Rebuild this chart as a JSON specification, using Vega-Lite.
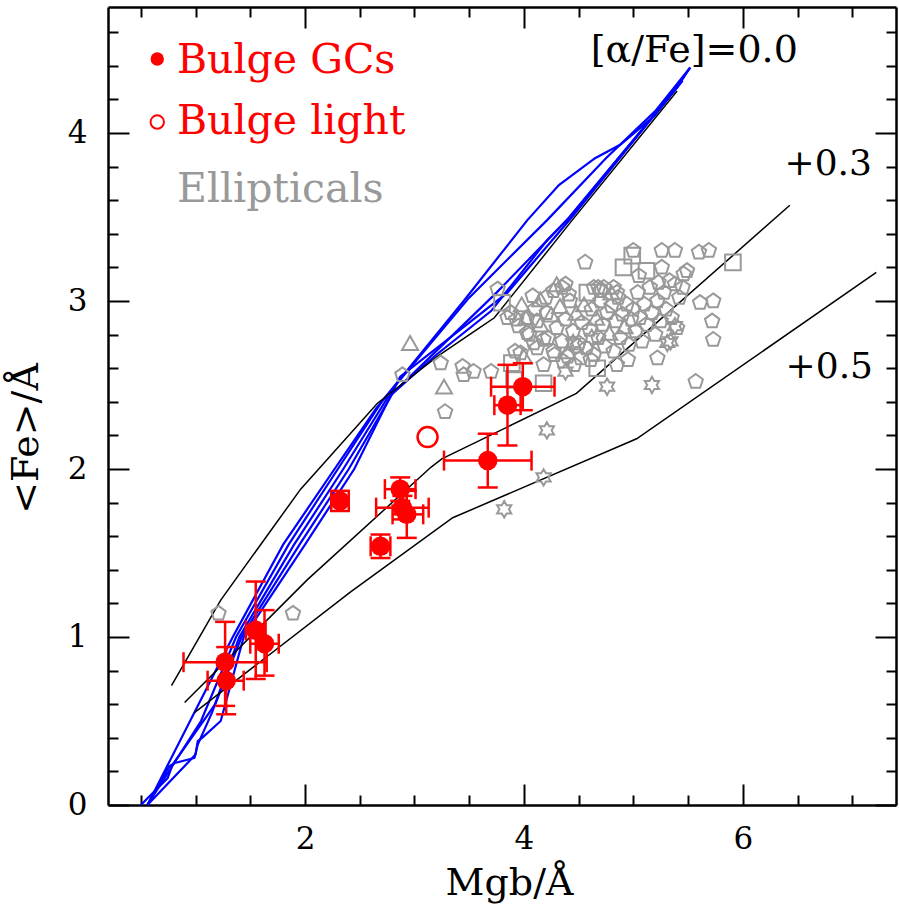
{
  "$schema": "https://vega.github.io/schema/vega-lite/v6.json",
  "width": 788,
  "height": 798,
  "autosize": "none",
  "padding": {"left": 108, "top": 7, "right": 3, "bottom": 100},
  "background": "white",
  "config": {"view": {"stroke": null}},
  "datasets": {
    "blue": [
      {"line": "L1", "i": 0, "x": 0.56, "y": 0}, {"line": "L1", "i": 1, "x": 0.95, "y": 0.5}, {"line": "L1", "i": 2, "x": 1.34, "y": 1.0}, {"line": "L1", "i": 3, "x": 1.8, "y": 1.55}, {"line": "L1", "i": 4, "x": 2.27, "y": 2.0}, {"line": "L1", "i": 5, "x": 2.65, "y": 2.36}, {"line": "L1", "i": 6, "x": 3.45, "y": 3.0}, {"line": "L1", "i": 7, "x": 4.03, "y": 3.48}, {"line": "L1", "i": 8, "x": 4.32, "y": 3.69}, {"line": "L1", "i": 9, "x": 4.65, "y": 3.85}, {"line": "L1", "i": 10, "x": 4.88, "y": 3.93}, {"line": "L1", "i": 11, "x": 5.19, "y": 4.1}, {"line": "L1", "i": 12, "x": 5.41, "y": 4.28}, {"line": "L1", "i": 13, "x": 5.52, "y": 4.39},
      {"line": "L2", "i": 0, "x": 0.56, "y": 0}, {"line": "L2", "i": 1, "x": 1.05, "y": 0.5}, {"line": "L2", "i": 2, "x": 1.37, "y": 1.0}, {"line": "L2", "i": 3, "x": 1.85, "y": 1.55}, {"line": "L2", "i": 4, "x": 2.3, "y": 2.0}, {"line": "L2", "i": 5, "x": 2.7, "y": 2.4}, {"line": "L2", "i": 6, "x": 3.5, "y": 3.02}, {"line": "L2", "i": 7, "x": 4.21, "y": 3.48}, {"line": "L2", "i": 8, "x": 4.75, "y": 3.85}, {"line": "L2", "i": 9, "x": 5.2, "y": 4.13}, {"line": "L2", "i": 10, "x": 5.52, "y": 4.39},
      {"line": "L3", "i": 0, "x": 0.56, "y": 0}, {"line": "L3", "i": 1, "x": 0.76, "y": 0.23}, {"line": "L3", "i": 2, "x": 0.81, "y": 0.25}, {"line": "L3", "i": 3, "x": 0.99, "y": 0.28}, {"line": "L3", "i": 4, "x": 1.02, "y": 0.36}, {"line": "L3", "i": 5, "x": 1.15, "y": 0.55}, {"line": "L3", "i": 6, "x": 1.4, "y": 1.0}, {"line": "L3", "i": 7, "x": 1.9, "y": 1.55}, {"line": "L3", "i": 8, "x": 2.35, "y": 2.0}, {"line": "L3", "i": 9, "x": 2.75, "y": 2.42}, {"line": "L3", "i": 10, "x": 3.2, "y": 2.68}, {"line": "L3", "i": 11, "x": 3.7, "y": 2.94}, {"line": "L3", "i": 12, "x": 4.21, "y": 3.36}, {"line": "L3", "i": 13, "x": 4.39, "y": 3.48}, {"line": "L3", "i": 14, "x": 5.41, "y": 4.28},
      {"line": "L4", "i": 0, "x": 0.5, "y": 0}, {"line": "L4", "i": 1, "x": 0.745, "y": 0.16}, {"line": "L4", "i": 2, "x": 0.79, "y": 0.24}, {"line": "L4", "i": 3, "x": 1.18, "y": 0.6}, {"line": "L4", "i": 4, "x": 1.42, "y": 1.0}, {"line": "L4", "i": 5, "x": 1.95, "y": 1.55}, {"line": "L4", "i": 6, "x": 2.4, "y": 2.0}, {"line": "L4", "i": 7, "x": 2.8, "y": 2.45}, {"line": "L4", "i": 8, "x": 3.75, "y": 3.05}, {"line": "L4", "i": 9, "x": 4.42, "y": 3.5}, {"line": "L4", "i": 10, "x": 5.45, "y": 4.31},
      {"line": "L5", "i": 0, "x": 0.56, "y": 0}, {"line": "L5", "i": 1, "x": 1.0, "y": 0.3}, {"line": "L5", "i": 2, "x": 1.02, "y": 0.38}, {"line": "L5", "i": 3, "x": 1.06, "y": 0.4}, {"line": "L5", "i": 4, "x": 1.23, "y": 0.5}, {"line": "L5", "i": 5, "x": 1.44, "y": 1.0}, {"line": "L5", "i": 6, "x": 2.0, "y": 1.55}, {"line": "L5", "i": 7, "x": 2.45, "y": 2.0}, {"line": "L5", "i": 8, "x": 2.87, "y": 2.55}, {"line": "L5", "i": 9, "x": 3.85, "y": 3.05}, {"line": "L5", "i": 10, "x": 4.44, "y": 3.5}, {"line": "L5", "i": 11, "x": 5.42, "y": 4.29}
    ],
    "black": [
      {"line": "a0", "i": 0, "x": 0.78, "y": 0.71}, {"line": "a0", "i": 1, "x": 1.23, "y": 1.22}, {"line": "a0", "i": 2, "x": 1.96, "y": 1.88}, {"line": "a0", "i": 3, "x": 2.66, "y": 2.39}, {"line": "a0", "i": 4, "x": 3.21, "y": 2.67}, {"line": "a0", "i": 5, "x": 3.57, "y": 2.83}, {"line": "a0", "i": 6, "x": 3.73, "y": 2.9}, {"line": "a0", "i": 7, "x": 4.44, "y": 3.48}, {"line": "a0", "i": 8, "x": 5.4, "y": 4.25},
      {"line": "a3", "i": 0, "x": 0.9, "y": 0.61}, {"line": "a3", "i": 1, "x": 2.02, "y": 1.34}, {"line": "a3", "i": 2, "x": 3.15, "y": 2.01}, {"line": "a3", "i": 3, "x": 3.25, "y": 2.06}, {"line": "a3", "i": 4, "x": 4.48, "y": 2.45}, {"line": "a3", "i": 5, "x": 6.43, "y": 3.57},
      {"line": "a5", "i": 0, "x": 0.99, "y": 0.55}, {"line": "a5", "i": 1, "x": 2.42, "y": 1.27}, {"line": "a5", "i": 2, "x": 3.35, "y": 1.71}, {"line": "a5", "i": 3, "x": 5.03, "y": 2.18}, {"line": "a5", "i": 4, "x": 7.22, "y": 3.17}
    ],
    "ell": [
      {"x": 1.21, "y": 1.14, "s": "p"}, {"x": 1.89, "y": 1.14, "s": "p"}, {"x": 3.28, "y": 2.34, "s": "p"}, {"x": 3.27, "y": 2.49, "s": "t"}, {"x": 2.96, "y": 2.75, "s": "t"}, {"x": 2.89, "y": 2.56, "s": "p"}, {"x": 3.24, "y": 2.63, "s": "p"}, {"x": 3.44, "y": 2.61, "s": "p"}, {"x": 3.45, "y": 2.56, "s": "p"}, {"x": 3.54, "y": 2.58, "s": "p"}, {"x": 3.7, "y": 2.58, "s": "p"}, {"x": 3.76, "y": 3.07, "s": "p"}, {"x": 3.8, "y": 2.99, "s": "s"}, {"x": 3.85, "y": 2.9, "s": "p"}, {"x": 3.93, "y": 2.89, "s": "p"}, {"x": 3.97, "y": 2.69, "s": "p"}, {"x": 3.89, "y": 2.63, "s": "s"}, {"x": 3.91, "y": 2.53, "s": "s"}, {"x": 4.18, "y": 2.51, "s": "s"},
      {"x": 4.21, "y": 2.23, "s": "h"}, {"x": 4.18, "y": 1.95, "s": "h"}, {"x": 3.82, "y": 1.76, "s": "h"}, {"x": 4.38, "y": 2.58, "s": "h"}, {"x": 4.76, "y": 2.49, "s": "h"}, {"x": 5.17, "y": 2.5, "s": "h"}, {"x": 5.31, "y": 2.75, "s": "h"}, {"x": 5.38, "y": 2.85, "s": "h"},
      {"x": 5.57, "y": 2.52, "s": "p"}, {"x": 4.56, "y": 3.23, "s": "p"}, {"x": 4.91, "y": 3.2, "s": "s"}, {"x": 4.99, "y": 3.27, "s": "s"}, {"x": 5.91, "y": 3.23, "s": "s"}, {"x": 5.0, "y": 3.3, "s": "p"}, {"x": 5.26, "y": 3.3, "s": "p"}, {"x": 5.38, "y": 3.3, "s": "p"}, {"x": 5.6, "y": 3.29, "s": "p"}, {"x": 5.69, "y": 3.3, "s": "p"}, {"x": 4.68, "y": 3.08, "s": "p"}, {"x": 4.8, "y": 3.05, "s": "t"}, {"x": 4.35, "y": 3.08, "s": "p"}, {"x": 4.41, "y": 3.04, "s": "p"}, {"x": 5.23, "y": 3.11, "s": "p"}, {"x": 5.38, "y": 3.1, "s": "p"}, {"x": 5.49, "y": 3.18, "s": "p"}, {"x": 5.46, "y": 3.16, "s": "p"}, {"x": 5.61, "y": 2.99, "s": "p"}, {"x": 5.73, "y": 3.0, "s": "p"}, {"x": 5.72, "y": 2.88, "s": "p"}, {"x": 5.73, "y": 2.77, "s": "p"}, {"x": 5.4, "y": 2.84, "s": "p"}, {"x": 5.34, "y": 2.76, "s": "h"}, {"x": 5.22, "y": 2.66, "s": "p"},
      {"x": 3.88, "y": 2.93, "s": "p"}, {"x": 3.95, "y": 2.85, "s": "p"}, {"x": 4.02, "y": 2.9, "s": "t"}, {"x": 4.05, "y": 2.8, "s": "p"}, {"x": 4.1, "y": 2.95, "s": "p"}, {"x": 4.12, "y": 2.72, "s": "p"}, {"x": 4.15, "y": 2.86, "s": "t"}, {"x": 4.2, "y": 3.02, "s": "p"}, {"x": 4.22, "y": 2.78, "s": "p"}, {"x": 4.25, "y": 2.92, "s": "t"}, {"x": 4.28, "y": 2.68, "s": "p"}, {"x": 4.3, "y": 2.84, "s": "p"}, {"x": 4.33, "y": 2.97, "s": "t"}, {"x": 4.35, "y": 2.76, "s": "p"}, {"x": 4.38, "y": 2.89, "s": "p"}, {"x": 4.4, "y": 2.7, "s": "t"}, {"x": 4.42, "y": 3.0, "s": "p"}, {"x": 4.45, "y": 2.82, "s": "p"}, {"x": 4.48, "y": 2.93, "s": "t"}, {"x": 4.5, "y": 2.75, "s": "p"}, {"x": 3.98, "y": 2.98, "s": "t"}, {"x": 4.08, "y": 3.03, "s": "p"}, {"x": 3.92, "y": 2.7, "s": "p"}, {"x": 4.0, "y": 2.67, "s": "t"}, {"x": 4.18, "y": 2.62, "s": "p"}, {"x": 4.27, "y": 3.06, "s": "p"}, {"x": 4.36, "y": 2.64, "s": "p"}, {"x": 4.46, "y": 2.62, "s": "p"},
      {"x": 4.53, "y": 2.87, "s": "p"}, {"x": 4.55, "y": 2.98, "s": "t"}, {"x": 4.57, "y": 2.72, "s": "p"}, {"x": 4.6, "y": 2.83, "s": "p"}, {"x": 4.62, "y": 2.95, "s": "p"}, {"x": 4.64, "y": 2.68, "s": "p"}, {"x": 4.66, "y": 2.9, "s": "t"}, {"x": 4.68, "y": 2.78, "s": "p"}, {"x": 4.7, "y": 3.0, "s": "p"}, {"x": 4.72, "y": 2.86, "s": "p"}, {"x": 4.74, "y": 2.73, "s": "p"}, {"x": 4.76, "y": 2.93, "s": "p"}, {"x": 4.78, "y": 2.81, "s": "t"}, {"x": 4.8, "y": 2.97, "s": "p"}, {"x": 4.82, "y": 2.7, "s": "p"}, {"x": 4.84, "y": 2.88, "s": "p"}, {"x": 4.86, "y": 3.02, "s": "p"}, {"x": 4.88, "y": 2.78, "s": "p"}, {"x": 4.9, "y": 2.92, "s": "p"}, {"x": 4.92, "y": 2.85, "s": "t"}, {"x": 4.94, "y": 2.98, "s": "p"}, {"x": 4.96, "y": 2.74, "s": "p"}, {"x": 4.98, "y": 2.89, "s": "p"}, {"x": 4.58, "y": 3.05, "s": "s"}, {"x": 4.73, "y": 3.08, "s": "p"}, {"x": 4.85, "y": 2.62, "s": "p"}, {"x": 4.67, "y": 2.6, "s": "s"}, {"x": 4.52, "y": 2.66, "s": "p"}, {"x": 4.95, "y": 2.65, "s": "p"},
      {"x": 5.0, "y": 2.95, "s": "p"}, {"x": 5.02, "y": 2.82, "s": "p"}, {"x": 5.04, "y": 3.05, "s": "p"}, {"x": 5.06, "y": 2.9, "s": "p"}, {"x": 5.08, "y": 2.76, "s": "p"}, {"x": 5.1, "y": 2.98, "s": "p"}, {"x": 5.12, "y": 2.86, "s": "p"}, {"x": 5.15, "y": 3.08, "s": "p"}, {"x": 5.17, "y": 2.93, "s": "p"}, {"x": 5.2, "y": 2.8, "s": "p"}, {"x": 5.22, "y": 3.0, "s": "p"}, {"x": 5.25, "y": 2.88, "s": "p"}, {"x": 5.28, "y": 3.05, "s": "p"}, {"x": 5.3, "y": 2.95, "s": "p"}, {"x": 5.33, "y": 3.12, "s": "p"}, {"x": 5.35, "y": 2.9, "s": "p"}, {"x": 5.42, "y": 3.02, "s": "p"}, {"x": 5.45, "y": 3.08, "s": "p"}, {"x": 5.05, "y": 3.15, "s": "p"}, {"x": 5.12, "y": 3.18, "s": "s"}, {"x": 5.26, "y": 3.2, "s": "p"},
      {"x": 4.38, "y": 3.1, "s": "p"}, {"x": 4.64, "y": 3.08, "s": "p"}, {"x": 4.7, "y": 3.06, "s": "p"}, {"x": 4.82, "y": 3.08, "s": "p"}, {"x": 4.85, "y": 3.05, "s": "p"}, {"x": 4.3, "y": 3.1, "s": "t"}, {"x": 4.15, "y": 3.01, "s": "t"}, {"x": 4.12, "y": 2.88, "s": "p"}, {"x": 4.21, "y": 2.93, "s": "p"}, {"x": 4.03, "y": 2.9, "s": "p"}, {"x": 4.03, "y": 2.81, "s": "p"}, {"x": 4.09, "y": 2.75, "s": "p"}, {"x": 4.18, "y": 2.77, "s": "p"}, {"x": 4.27, "y": 2.7, "s": "p"}, {"x": 4.4, "y": 2.67, "s": "p"}, {"x": 4.49, "y": 2.73, "s": "p"}, {"x": 4.61, "y": 2.65, "s": "p"}, {"x": 4.45, "y": 2.75, "s": "h"}, {"x": 4.62, "y": 2.78, "s": "h"}
    ],
    "gc": [
      {"x": 2.32, "y": 1.81, "xlo": 2.24, "xhi": 2.4, "ylo": 1.75, "yhi": 1.87},
      {"x": 2.87, "y": 1.88, "xlo": 2.73, "xhi": 3.01, "ylo": 1.81, "yhi": 1.95},
      {"x": 2.89, "y": 1.77, "xlo": 2.65, "xhi": 3.13, "ylo": 1.7, "yhi": 1.84},
      {"x": 2.93, "y": 1.73, "xlo": 2.8, "xhi": 3.08, "ylo": 1.59, "yhi": 1.87},
      {"x": 2.69, "y": 1.54, "xlo": 2.6, "xhi": 2.78, "ylo": 1.47, "yhi": 1.61},
      {"x": 3.67, "y": 2.05, "xlo": 3.27, "xhi": 4.07, "ylo": 1.89, "yhi": 2.21},
      {"x": 3.85, "y": 2.38, "xlo": 3.73, "xhi": 3.97, "ylo": 2.14, "yhi": 2.62},
      {"x": 3.99, "y": 2.49, "xlo": 3.7, "xhi": 4.28, "ylo": 2.35, "yhi": 2.63},
      {"x": 1.55, "y": 1.04, "xlo": 1.46, "xhi": 1.64, "ylo": 0.75, "yhi": 1.33},
      {"x": 1.63, "y": 0.96, "xlo": 1.5, "xhi": 1.76, "ylo": 0.77, "yhi": 1.16},
      {"x": 1.27, "y": 0.85, "xlo": 0.89, "xhi": 1.65, "ylo": 0.59, "yhi": 1.09},
      {"x": 1.28, "y": 0.74, "xlo": 1.11, "xhi": 1.44, "ylo": 0.54, "yhi": 0.94}
    ]
  },
  "resolve": {"axis": {"x": "independent", "y": "independent"}},
  "layer": [
    {
      "data": {"name": "blue"},
      "mark": {"type": "line", "color": "#0000ff", "strokeWidth": 2.2},
      "encoding": {
        "x": {"field": "x", "type": "quantitative", "scale": {"domain": [0.2, 7.4], "nice": false, "zero": false},
          "axis": {"orient": "top", "title": null, "labels": false, "values": [0.5, 1, 1.5, 2, 2.5, 3, 3.5, 4, 4.5, 5, 5.5, 6, 6.5, 7],
            "tickSize": {"condition": {"test": "datum.value % 2 === 0", "value": -21}, "value": -10},
            "tickColor": "black", "tickWidth": 2, "domainColor": "black", "domainWidth": 2.5, "grid": false}},
        "y": {"field": "y", "type": "quantitative", "scale": {"domain": [0, 4.75], "nice": false, "zero": false},
          "axis": {"orient": "right", "title": null, "labels": false, "values": [0, 0.2, 0.4, 0.6, 0.8, 1, 1.2, 1.4, 1.6, 1.8, 2, 2.2, 2.4, 2.6, 2.8, 3, 3.2, 3.4, 3.6, 3.8, 4, 4.2, 4.4, 4.6],
            "tickSize": {"condition": {"test": "abs(datum.value - round(datum.value)) < 0.001", "value": -21}, "value": -10},
            "tickColor": "black", "tickWidth": 2, "domainColor": "black", "domainWidth": 2.5, "grid": false}},
        "detail": {"field": "line"},
        "order": {"field": "i", "type": "quantitative"}
      }
    },
    {
      "data": {"name": "black"},
      "mark": {"type": "line", "color": "black", "strokeWidth": 1.5},
      "encoding": {
        "x": {"field": "x", "type": "quantitative",
          "axis": {"orient": "bottom", "title": "Mgb/Å", "values": [0.5, 1, 1.5, 2, 2.5, 3, 3.5, 4, 4.5, 5, 5.5, 6, 6.5, 7],
            "labelExpr": "datum.value % 2 === 0 ? format(datum.value, 'd') : ''",
            "labelFont": "DejaVu Serif", "labelFontSize": 31, "labelColor": "black", "labelPadding": 40,
            "labelOverlap": false, "labelFlush": false, "labelBound": false,
            "tickSize": {"condition": {"test": "datum.value % 2 === 0", "value": -21}, "value": -10},
            "tickColor": "black", "tickWidth": 2, "domainColor": "black", "domainWidth": 2.5, "grid": false,
            "titleFont": "DejaVu Serif", "titleFontSize": 38, "titleFontWeight": "normal", "titleColor": "black",
            "titleBaseline": "alphabetic", "titleY": 89, "titleX": 401}},
        "y": {"field": "y", "type": "quantitative",
          "axis": {"orient": "left", "title": "<Fe>/Å", "values": [0, 0.2, 0.4, 0.6, 0.8, 1, 1.2, 1.4, 1.6, 1.8, 2, 2.2, 2.4, 2.6, 2.8, 3, 3.2, 3.4, 3.6, 3.8, 4, 4.2, 4.4, 4.6],
            "labelExpr": "abs(datum.value - round(datum.value)) < 0.001 ? format(datum.value, 'd') : ''",
            "labelFont": "DejaVu Serif", "labelFontSize": 31, "labelColor": "black", "labelPadding": 42,
            "labelOverlap": false, "labelFlush": false, "labelBound": false,
            "tickSize": {"condition": {"test": "abs(datum.value - round(datum.value)) < 0.001", "value": -21}, "value": -10},
            "tickColor": "black", "tickWidth": 2, "domainColor": "black", "domainWidth": 2.5, "grid": false,
            "titleFont": "DejaVu Serif", "titleFontSize": 38, "titleFontWeight": "normal", "titleColor": "black",
            "titleBaseline": "alphabetic", "titleAngle": -90, "titleX": -71, "titleY": 431}},
        "detail": {"field": "line"},
        "order": {"field": "i", "type": "quantitative"}
      }
    },
    {
      "data": {"name": "ell"},
      "mark": {"type": "point", "filled": false, "color": "#999999", "strokeWidth": 2, "opacity": 1},
      "encoding": {
        "x": {"field": "x", "type": "quantitative", "axis": null},
        "y": {"field": "y", "type": "quantitative", "axis": null},
        "shape": {"field": "s", "type": "nominal", "legend": null,
          "scale": {"domain": ["p", "s", "t", "h"], "range": ["M0,-1L0.951,-0.309L0.588,0.809L-0.588,0.809L-0.951,-0.309Z", "square", "triangle-up", "M0,-1L0.289,-0.5L0.866,-0.5L0.577,0L0.866,0.5L0.289,0.5L0,1L-0.289,0.5L-0.866,0.5L-0.577,0L-0.866,-0.5L-0.289,-0.5Z"]}},
        "size": {"field": "s", "type": "nominal", "legend": null,
          "scale": {"domain": ["p", "s", "t", "h"], "range": [230, 270, 170, 150]}}
      }
    },
    {
      "data": {"name": "gc"},
      "mark": {"type": "rule", "color": "#ff0000", "strokeWidth": 2.5},
      "encoding": {
        "x": {"field": "xlo", "type": "quantitative", "axis": null},
        "x2": {"field": "xhi"},
        "y": {"field": "y", "type": "quantitative", "axis": null}
      }
    },
    {
      "data": {"name": "gc"},
      "mark": {"type": "rule", "color": "#ff0000", "strokeWidth": 2.5},
      "encoding": {
        "x": {"field": "x", "type": "quantitative", "axis": null},
        "y": {"field": "ylo", "type": "quantitative", "axis": null},
        "y2": {"field": "yhi"}
      }
    },
    {
      "data": {"name": "gc"},
      "transform": [{"fold": ["xlo", "xhi"], "as": ["k", "xe"]}],
      "mark": {"type": "tick", "color": "#ff0000", "orient": "vertical", "size": 20, "thickness": 2.5, "opacity": 1},
      "encoding": {
        "x": {"field": "xe", "type": "quantitative", "axis": null},
        "y": {"field": "y", "type": "quantitative", "axis": null}
      }
    },
    {
      "data": {"name": "gc"},
      "transform": [{"fold": ["ylo", "yhi"], "as": ["k", "ye"]}],
      "mark": {"type": "tick", "color": "#ff0000", "orient": "horizontal", "size": 20, "thickness": 2.5, "opacity": 1},
      "encoding": {
        "x": {"field": "x", "type": "quantitative", "axis": null},
        "y": {"field": "ye", "type": "quantitative", "axis": null}
      }
    },
    {
      "data": {"name": "gc"},
      "mark": {"type": "circle", "color": "#ff0000", "size": 380, "opacity": 1},
      "encoding": {
        "x": {"field": "x", "type": "quantitative", "axis": null},
        "y": {"field": "y", "type": "quantitative", "axis": null}
      }
    },
    {
      "data": {"values": [{"x": 3.12, "y": 2.19}]},
      "mark": {"type": "point", "shape": "circle", "filled": false, "color": "#ff0000", "size": 400, "strokeWidth": 2.5, "opacity": 1},
      "encoding": {
        "x": {"field": "x", "type": "quantitative", "axis": null},
        "y": {"field": "y", "type": "quantitative", "axis": null}
      }
    },
    {
      "data": {"values": [{"x": 0.65, "y": 4.44, "kind": "filled"}]},
      "mark": {"type": "circle", "color": "#ff0000", "size": 180, "opacity": 1},
      "encoding": {
        "x": {"field": "x", "type": "quantitative", "axis": null},
        "y": {"field": "y", "type": "quantitative", "axis": null}
      }
    },
    {
      "data": {"values": [{"x": 0.65, "y": 4.065, "kind": "open"}]},
      "mark": {"type": "point", "shape": "circle", "filled": false, "color": "#ff0000", "size": 180, "strokeWidth": 2, "opacity": 1},
      "encoding": {
        "x": {"field": "x", "type": "quantitative", "axis": null},
        "y": {"field": "y", "type": "quantitative", "axis": null}
      }
    },
    {
      "data": {"values": [{"x": 0.83, "y": 4.36, "t": "Bulge GCs"}, {"x": 0.83, "y": 3.995, "t": "Bulge light"}]},
      "mark": {"type": "text", "color": "#ff0000", "font": "DejaVu Serif", "fontSize": 41, "align": "left", "baseline": "alphabetic"},
      "encoding": {
        "x": {"field": "x", "type": "quantitative", "axis": null},
        "y": {"field": "y", "type": "quantitative", "axis": null},
        "text": {"field": "t"}
      }
    },
    {
      "data": {"values": [{"x": 0.83, "y": 3.59, "t": "Ellipticals"}]},
      "mark": {"type": "text", "color": "#999999", "font": "DejaVu Serif", "fontSize": 41, "align": "left", "baseline": "alphabetic"},
      "encoding": {
        "x": {"field": "x", "type": "quantitative", "axis": null},
        "y": {"field": "y", "type": "quantitative", "axis": null},
        "text": {"field": "t"}
      }
    },
    {
      "data": {"values": [{"x": 4.61, "y": 4.42, "t": "[α/Fe]=0.0"}]},
      "mark": {"type": "text", "color": "black", "font": "DejaVu Serif", "fontSize": 38, "align": "left", "baseline": "alphabetic"},
      "encoding": {
        "x": {"field": "x", "type": "quantitative", "axis": null},
        "y": {"field": "y", "type": "quantitative", "axis": null},
        "text": {"field": "t"}
      }
    },
    {
      "data": {"values": [{"x": 7.18, "y": 3.75, "t": "+0.3"}, {"x": 7.19, "y": 2.54, "t": "+0.5"}]},
      "mark": {"type": "text", "color": "black", "font": "DejaVu Serif", "fontSize": 36, "align": "right", "baseline": "alphabetic"},
      "encoding": {
        "x": {"field": "x", "type": "quantitative", "axis": null},
        "y": {"field": "y", "type": "quantitative", "axis": null},
        "text": {"field": "t"}
      }
    }
  ]
}
